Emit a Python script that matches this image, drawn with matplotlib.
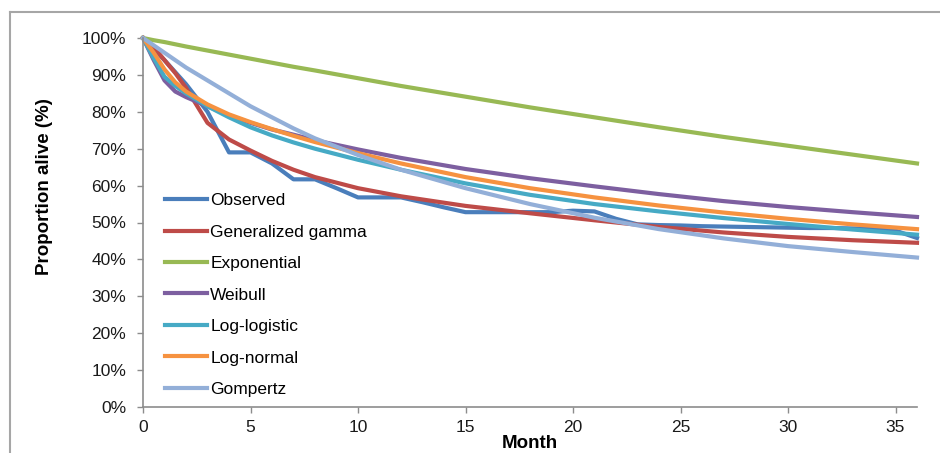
import matplotlib
matplotlib.use("Agg")
import matplotlib.pyplot as plt
from matplotlib.lines import Line2D
from matplotlib.ticker import PercentFormatter

plt.rcParams['font.family'] = ['Liberation Sans', 'DejaVu Sans']

# observed survival, one value per month
obs_months = list(range(37))
observed = [100, 94, 87.5, 80, 69, 69, 66, 61.7, 61.7, 59.3, 56.8, 56.8, 56.8,
            55.5, 54.1, 52.8, 52.8, 52.8, 52.8, 52.8, 53.2, 53.0, 51.0, 49.5,
            49.3, 49.2, 49.0, 48.9, 48.8, 48.7, 48.6, 48.5, 48.5, 48.4, 48.3,
            47.8, 45.8]

# fitted curves, read at these months
months = [0, 0.5, 1, 1.5, 2, 3, 4, 5, 6, 7, 8, 10, 12, 15, 18, 21, 24, 27, 30, 33, 36]
gen_gamma = [100, 97.5, 94, 90.5, 86.5, 77, 72.5, 69.5, 66.7, 64.3, 62.3, 59.3,
             57.1, 54.5, 52.5, 50.6, 48.8, 47.3, 46.1, 45.2, 44.5]
exponential = [100, 99.4, 98.9, 98.3, 97.7, 96.6, 95.5, 94.4, 93.3, 92.2, 91.2,
               89.1, 87.0, 84.1, 81.2, 78.5, 75.8, 73.2, 70.8, 68.4, 66.0]
weibull = [100, 94, 88.5, 85.5, 84, 81.5, 79, 77, 75.2, 73.8, 72.3, 69.8, 67.5,
           64.5, 62, 59.8, 57.7, 55.8, 54.2, 52.8, 51.5]
log_logistic = [100, 94.5, 89.5, 87, 85, 81.5, 78.5, 75.8, 73.6, 71.7, 70, 67,
                64.3, 60.6, 57.5, 55, 53, 51.2, 49.6, 48.1, 46.7]
log_normal = [100, 96, 91.5, 88, 85.5, 82, 79.3, 77.2, 75.3, 73.5, 71.8, 68.8,
              66, 62.3, 59.3, 56.8, 54.6, 52.7, 51, 49.5, 48.2]
gompertz = [100, 98, 96, 94, 92, 88.5, 85, 81.5, 78.5, 75.5, 72.8, 68.3, 64.3,
            59.3, 55, 51.3, 48.2, 45.7, 43.6, 42, 40.5]

W, H = 940, 453
fig = plt.figure(figsize=(W / 100, H / 100), dpi=100)
ax = fig.add_axes([143 / W, 1 - 407 / H, (917 - 143) / W, (407 - 38) / H])

lw = 3
ax.plot(obs_months, observed, color='#4A7EBB', lw=lw, label='Observed', clip_on=False)
ax.plot(months, gen_gamma, color='#BE4B48', lw=lw, label='Generalized gamma', clip_on=False)
ax.plot(months, exponential, color='#98B954', lw=lw, label='Exponential', clip_on=False)
ax.plot(months, weibull, color='#7D5FA0', lw=lw, label='Weibull', clip_on=False)
ax.plot(months, log_logistic, color='#46AAC5', lw=lw, label='Log-logistic', clip_on=False)
ax.plot(months, log_normal, color='#F69240', lw=lw, label='Log-normal', clip_on=False)
ax.plot(months, gompertz, color='#93AFD8', lw=lw, label='Gompertz', clip_on=False)

ax.set_xlim(0, 36)
ax.set_ylim(0, 100)
ax.set_xticks(range(0, 36, 5))
ax.set_yticks(range(0, 101, 10))
ax.yaxis.set_major_formatter(PercentFormatter(xmax=100, decimals=0))

for s in ['top', 'right']:
    ax.spines[s].set_visible(False)
for s in ['left', 'bottom']:
    ax.spines[s].set_color('#8c8c8c')
    ax.spines[s].set_linewidth(1.2)
ax.tick_params(axis='both', colors='#8c8c8c', labelcolor='#1a1a1a', labelsize=12.5,
               length=4, width=1)
ax.tick_params(axis='y', pad=8)
ax.tick_params(axis='x', pad=5)

ax.legend(loc='upper left', bbox_to_anchor=(165 / W, 1 - 193 / H),
          bbox_transform=fig.transFigure, frameon=False, fontsize=12.5,
          borderpad=0, borderaxespad=0, handlelength=2.4, handletextpad=0.2,
          labelspacing=0.94)

fig.text(45 / W, 1 - 187 / H, 'Proportion alive (%)', rotation=90, fontsize=13.5,
         fontweight='bold', ha='center', va='center')
fig.text(530 / W, 1 - 444 / H, 'Month', fontsize=13.5, fontweight='bold',
         ha='center', va='center')

# chart area border (runs off the right and bottom edges)
fig.add_artist(Line2D([10 / W, 1], [1 - 12 / H, 1 - 12 / H], color='#a6a6a6', lw=1.5))
fig.add_artist(Line2D([10 / W, 10 / W], [0, 1 - 12 / H], color='#a6a6a6', lw=1.5))

fig.savefig('out.png', dpi=100)
